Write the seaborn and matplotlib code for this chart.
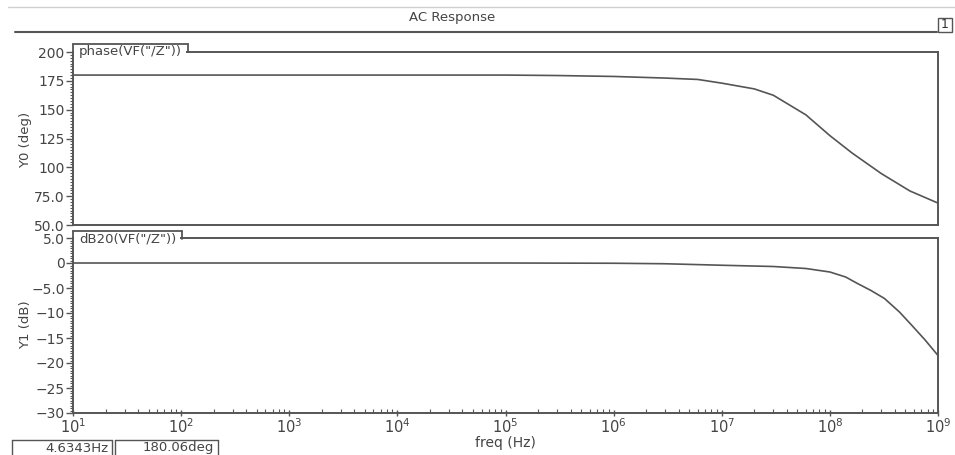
import numpy as np
import pandas as pd
import seaborn as sns
import matplotlib
matplotlib.use("Agg")
import matplotlib.pyplot as plt
from matplotlib.lines import Line2D
from matplotlib.patches import Rectangle
from matplotlib.ticker import AutoMinorLocator, FixedLocator, NullFormatter

# ---- data ----
freq_phase = [1e1, 1e3, 1e5, 3e5, 1e6, 3e6, 6e6, 1e7, 2e7, 3e7, 6e7, 1e8, 1.6e8, 3e8, 5.5e8, 1e9]
phase_deg = [180.0, 180.0, 180.0, 179.6, 178.8, 177.4, 176.2, 173.0, 168.0, 162.5, 145.5, 127.5, 112.5, 94.5, 79.5, 69.0]

freq_db = [1e1, 1e3, 1e5, 1e6, 3e6, 1e7, 3e7, 6e7, 1e8, 1.4e8, 1.8e8, 2.4e8, 3.2e8, 4.4e8, 5.8e8, 7.6e8, 1e9]
gain_db = [0.0, 0.0, 0.0, -0.05, -0.15, -0.45, -0.7, -1.1, -1.8, -2.8, -4.1, -5.5, -7.1, -9.8, -12.6, -15.4, -18.5]

freq_ticks = [1e1, 1e2, 1e3, 1e4, 1e5, 1e6, 1e7, 1e8, 1e9]
freq_tick_labels = [r"$10^{1}$", r"$10^{2}$", r"$10^{3}$", r"$10^{4}$", r"$10^{5}$",
                    r"$10^{6}$", r"$10^{7}$", r"$10^{8}$", r"$10^{9}$"]
phase_ticks = [50, 75, 100, 125, 150, 175, 200]
phase_tick_labels = ["50.0", "75.0", "100", "125", "150", "175", "200"]
db_ticks = [-30, -25, -20, -15, -10, -5, 0, 5]
db_tick_labels = ["\u221230", "\u221225", "\u221220", "\u221215", "\u221210", "\u22125.0", "0", "5.0"]

title = "AC Response"
top_trace = 'phase(VF("/Z"))'
bot_trace = 'dB20(VF("/Z"))'
cursor_texts = ["4.6343Hz", "180.06deg"]

# ---- styling ----
sns.set_style("ticks")
plt.rcParams["font.family"] = ["DejaVu Sans"]
TXT = "#444444"
EDGE = "#555555"
W, H = 955, 455

fig = plt.figure(figsize=(W / 100, H / 100), dpi=100)


def fx(px):
    return px / W


def fy(py):
    return 1 - py / H


def line_px(x0, y0, x1, y1, color=EDGE, lw=1.3):
    fig.add_artist(Line2D([fx(x0), fx(x1)], [fy(y0), fy(y1)], color=color, lw=lw,
                          transform=fig.transFigure))


L, R = 73, 938
ax1 = fig.add_axes([fx(L), fy(225), fx(R) - fx(L), fy(52) - fy(225)])
ax2 = fig.add_axes([fx(L), fy(413), fx(R) - fx(L), fy(238) - fy(413)])

df1 = pd.DataFrame({"freq": freq_phase, "phase": phase_deg})
df2 = pd.DataFrame({"freq": freq_db, "db": gain_db})
sns.lineplot(data=df1, x="freq", y="phase", ax=ax1, color="#555555", lw=1.2)
sns.lineplot(data=df2, x="freq", y="db", ax=ax2, color="#555555", lw=1.2)

minor_x = [m * 10 ** e for e in range(1, 9) for m in range(2, 10)]
for ax in (ax1, ax2):
    ax.set_xscale("log")
    ax.set_xlim(1e1, 1e9)
    for s in ax.spines.values():
        s.set_color(EDGE)
        s.set_linewidth(1.4)
    ax.yaxis.set_minor_locator(AutoMinorLocator(10))
    ax.xaxis.set_major_locator(FixedLocator(freq_ticks))
    ax.xaxis.set_minor_locator(FixedLocator(minor_x))
    ax.xaxis.set_minor_formatter(NullFormatter())
    ax.tick_params(axis="y", which="major", length=5, width=1, color=EDGE,
                   labelsize=10, labelcolor=TXT, pad=1)
    ax.tick_params(axis="y", which="minor", length=2.5, width=0.8, color=EDGE)
    ax.set_xlabel("")
    ax.set_ylabel("")
    ax.set_facecolor("white")

ax1.set_ylim(50, 200)
ax1.set_yticks(phase_ticks)
ax1.set_yticklabels(phase_tick_labels)
ax1.tick_params(axis="x", which="both", length=0, labelbottom=False)

ax2.set_ylim(-30, 5)
ax2.set_yticks(db_ticks)
ax2.set_yticklabels(db_tick_labels)
ax2.set_xticks(freq_ticks)
ax2.set_xticklabels(freq_tick_labels)
ax2.tick_params(axis="x", which="major", length=4, width=1, color=EDGE, direction="inout",
                labelsize=10.5, labelcolor=TXT, pad=1)
ax2.tick_params(axis="x", which="minor", length=3, width=0.8, color=EDGE, direction="in")
ax2.set_xlabel("freq (Hz)", fontsize=10, color=TXT, labelpad=0)

# axis labels
fig.text(fx(26), fy(140), "Y0 (deg)", rotation=90, ha="center", va="center", fontsize=9.5, color=TXT)
fig.text(fx(26), fy(325), "Y1 (dB)", rotation=90, ha="center", va="center", fontsize=9.5, color=TXT)

# trace tabs
for (tab_top, spine_y, tab_right, label) in [(44, 52, 188, top_trace), (231, 238.5, 182, bot_trace)]:
    fig.add_artist(Rectangle((fx(L + 1), fy(spine_y + 3)), fx(tab_right - 2) - fx(L + 1),
                             fy(tab_top + 1) - fy(spine_y + 3), facecolor="white",
                             edgecolor="none", transform=fig.transFigure, zorder=5))
    line_px(L, tab_top, tab_right, tab_top)
    line_px(L, tab_top, L, spine_y)
    line_px(tab_right, tab_top, tab_right, spine_y)
    fig.text(fx(L + 6), fy(tab_top + 7.5), label, ha="left", va="center", fontsize=9.5,
             color=TXT, zorder=6)

# header
line_px(8, 7, 955, 7, color="#cfcfcf", lw=1)
line_px(15, 32, 937, 32, color="#555555", lw=1.5)
fig.text(fx(452), fy(18), title, ha="center", va="center", fontsize=9.5, color=TXT)
fig.add_artist(Rectangle((fx(938), fy(32)), fx(14), fy(18) - fy(32), facecolor="white",
                         edgecolor=EDGE, lw=1, transform=fig.transFigure))
fig.text(fx(945), fy(25), "1", ha="center", va="center", fontsize=9, color="#333333")

# cursor readout boxes
for (x0, x1, txt) in [(12, 112, cursor_texts[0]), (115, 218, cursor_texts[1])]:
    line_px(x0, 440, x1, 440, lw=1)
    line_px(x0, 440, x0, 455, lw=1)
    line_px(x1, 440, x1, 455, lw=1)
    fig.text(fx(x1 - 4), fy(448), txt, ha="right", va="center", fontsize=9.5, color=TXT)

fig.savefig("out.png", dpi=100, facecolor="white")
